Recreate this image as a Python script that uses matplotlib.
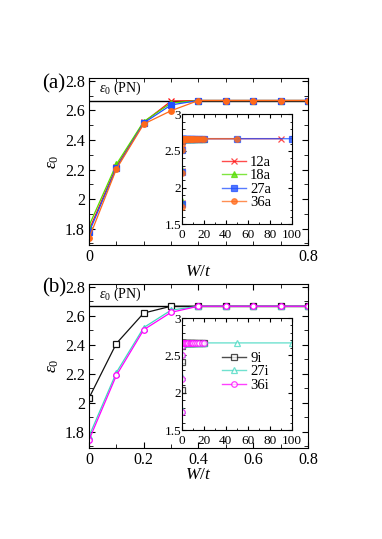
import matplotlib
matplotlib.use('Agg')
import matplotlib.pyplot as plt
from matplotlib.ticker import MultipleLocator, FixedLocator, FixedFormatter

plt.rcParams['font.family'] = ['Liberation Serif', 'DejaVu Serif']
plt.rcParams['mathtext.fontset'] = 'custom'
plt.rcParams['mathtext.rm'] = 'Liberation Serif'
plt.rcParams['mathtext.it'] = 'Liberation Serif:italic'
plt.rcParams['xtick.direction'] = 'in'
plt.rcParams['ytick.direction'] = 'in'
plt.rcParams['xtick.top'] = True
plt.rcParams['ytick.right'] = True

# ---- data ----
PN = 2.667
W = [0.0, 0.1, 0.2, 0.3, 0.4, 0.5, 0.6, 0.7, 0.8]

e_12a = [1.79, 2.22, 2.52, 2.663, 2.667, 2.667, 2.667, 2.667, 2.667]
e_18a = [1.82, 2.235, 2.525, 2.65, 2.667, 2.667, 2.667, 2.667, 2.667]
e_27a = [1.775, 2.21, 2.515, 2.637, 2.667, 2.667, 2.667, 2.667, 2.667]
e_36a = [1.735, 2.203, 2.508, 2.598, 2.667, 2.667, 2.667, 2.667, 2.667]

e_9i = [2.034, 2.41, 2.62, 2.667, 2.667, 2.667, 2.667, 2.667, 2.667]
e_27i = [1.77, 2.21, 2.52, 2.64, 2.667, 2.667, 2.667, 2.667, 2.667]
e_36i = [1.745, 2.19, 2.505, 2.625, 2.667, 2.667, 2.667, 2.667, 2.667]

# large-W tails for the insets
W_tail = [1, 2, 3, 4, 5, 6, 7, 8, 9, 10, 12, 14, 16, 18, 20]
e_tail = [2.667, 2.667, 2.667, 2.667, 2.667, 2.667, 2.667, 2.667,
          2.667, 2.667, 2.667, 2.667, 2.667, 2.667, 2.667]
W_far_12a = [90]
W_far_27a = [50, 100]
W_far_36a = [50]
W_far_27i = [50, 100]
e_far1 = [2.667]
e_far2 = [2.667, 2.667]

series_a = [
    ('12a', e_12a, W_far_12a, e_far1, '#ff1010', 'x', True),
    ('18a', e_18a, [], [], '#55dd00', '^', True),
    ('27a', e_27a, W_far_27a, e_far2, '#1f4fff', 's', True),
    ('36a', e_36a, W_far_36a, e_far1, '#ff6a1a', 'o', True),
]
series_b = [
    ('9i', e_9i, [], [], '#111111', 's', False),
    ('27i', e_27i, W_far_27i, e_far2, '#40d8c0', '^', False),
    ('36i', e_36i, [], [], '#ff00ff', 'o', False),
]

fig = plt.figure(figsize=(3.82, 5.39), dpi=100)


def style_main(ax, labels_all):
    ax.set_xlim(0, 0.8)
    ax.set_ylim(1.69, 2.82)
    ax.yaxis.set_major_locator(FixedLocator([1.8, 2.0, 2.2, 2.4, 2.6, 2.8]))
    ax.yaxis.set_major_formatter(FixedFormatter(['1.8', '2', '2.2', '2.4', '2.6', '2.8']))
    ax.yaxis.set_minor_locator(MultipleLocator(0.1))
    if labels_all:
        ax.xaxis.set_major_locator(FixedLocator([0, 0.2, 0.4, 0.6, 0.8]))
        ax.xaxis.set_major_formatter(FixedFormatter(['0', '0.2', '0.4', '0.6', '0.8']))
        ax.xaxis.set_minor_locator(MultipleLocator(0.1))
    else:
        ax.xaxis.set_major_locator(FixedLocator([0, 0.8]))
        ax.xaxis.set_major_formatter(FixedFormatter(['0', '0.8']))
        ax.xaxis.set_minor_locator(FixedLocator([0.1, 0.2, 0.3, 0.4, 0.5, 0.6, 0.7]))
    ax.tick_params(which='major', length=4, labelsize=11.5, pad=3)
    ax.tick_params(which='minor', length=3)
    ax.axhline(PN, color='black', lw=1.0, zorder=1)
    ax.text(0.035, 2.69, r'$\varepsilon_0$ (PN)', fontsize=10, va='bottom')
    ax.set_xlabel(r'$W/t$', fontsize=12.5, labelpad=-1)
    ax.set_ylabel(r'$\varepsilon_0$', fontsize=12.5, labelpad=3)


def style_inset(ax):
    ax.set_xlim(0, 100)
    ax.set_ylim(1.5, 3.0)
    ax.xaxis.set_major_locator(MultipleLocator(20))
    ax.xaxis.set_minor_locator(MultipleLocator(10))
    ax.yaxis.set_major_locator(FixedLocator([1.5, 2.0, 2.5, 3.0]))
    ax.yaxis.set_major_formatter(FixedFormatter(['1.5', '2', '2.5', '3']))
    ax.yaxis.set_minor_locator(MultipleLocator(0.1))
    ax.tick_params(which='major', length=3, labelsize=9.5)
    ax.tick_params(axis='x', which='major', pad=3.5)
    ax.tick_params(axis='y', which='major', pad=0.5)
    ax.tick_params(which='minor', length=1.8)


def draw(ax, inset, series):
    for name, e, wf, ef, col, mk, filled in series:
        fc = col if filled else 'white'
        ax.plot(W, e, color=col, marker=mk, ms=4, mfc=fc, mec=col, lw=0.9, mew=0.9)
        xs = W + W_tail + wf
        ys = e + e_tail + ef
        inset.plot(xs, ys, color=col, marker=mk, ms=4, mfc=fc, mec=col, lw=1.0,
                   mew=0.9, alpha=0.75, label=name)


ax1 = fig.add_axes([0.233, 0.5455, 0.573, 0.31])
style_main(ax1, False)
in1 = fig.add_axes([0.476, 0.584, 0.288, 0.204])
draw(ax1, in1, series_a)
style_inset(in1)
in1.legend(loc='center left', frameon=False, fontsize=10.5, handlelength=1.6,
           handletextpad=0.3, labelspacing=0.0, bbox_to_anchor=(0.25, 0.38))
fig.text(0.11, 0.836, '(a)', fontsize=15)

ax2 = fig.add_axes([0.233, 0.169, 0.573, 0.304])
style_main(ax2, True)
in2 = fig.add_axes([0.476, 0.202, 0.288, 0.208])
draw(ax2, in2, series_b)
style_inset(in2)
in2.legend(loc='center left', frameon=False, fontsize=10.5, handlelength=1.6,
           handletextpad=0.3, labelspacing=0.0, bbox_to_anchor=(0.25, 0.52))
fig.text(0.11, 0.457, '(b)', fontsize=15)

plt.savefig('out.png', dpi=100)
